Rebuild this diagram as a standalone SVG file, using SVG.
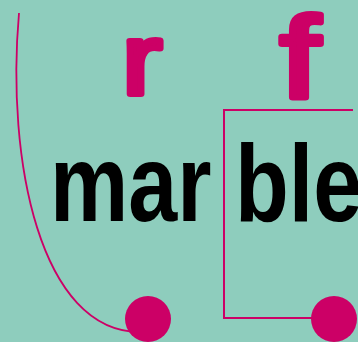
<svg xmlns="http://www.w3.org/2000/svg" width="358" height="342" viewBox="0 0 358 342">
<style>
.mag{fill:#CC0066;stroke:#CC0066;stroke-width:6;stroke-linejoin:round;stroke-linecap:round;font-family:"Liberation Sans",Arial,sans-serif;font-weight:normal}
.word{fill:#000;font-family:"Liberation Sans",Arial,sans-serif;font-weight:bold;font-size:110px}
.line{fill:none;stroke:#CC0066}
.dot{fill:#CC0066}
</style>
<rect width="358" height="342" fill="#8ECDBD"/>
<g id="letter-r"><text class="mag" transform="translate(142,94) scale(1.2,1)" font-size="100" text-anchor="middle">r</text></g>
<g id="letter-f"><text class="mag" transform="translate(300,97) scale(1.25,1)" font-size="115" text-anchor="middle">f</text></g>
<g id="word-mar"><text class="word" transform="translate(50,221) scale(0.8,1)">mar</text></g>
<g id="word-ble"><text class="word" transform="translate(235,221) scale(0.8,1)">ble</text></g>
<g id="connectors">
<path class="line" stroke-width="1.8" d="M19,13 C6,160 40,332 140,332"/>
<path class="line" stroke-width="2" d="M353,110 H224 V318 H334"/>
</g>
<g id="dot-1"><circle class="dot" cx="148" cy="319" r="23"/></g>
<g id="dot-2"><circle class="dot" cx="334" cy="319" r="23"/></g>
</svg>
